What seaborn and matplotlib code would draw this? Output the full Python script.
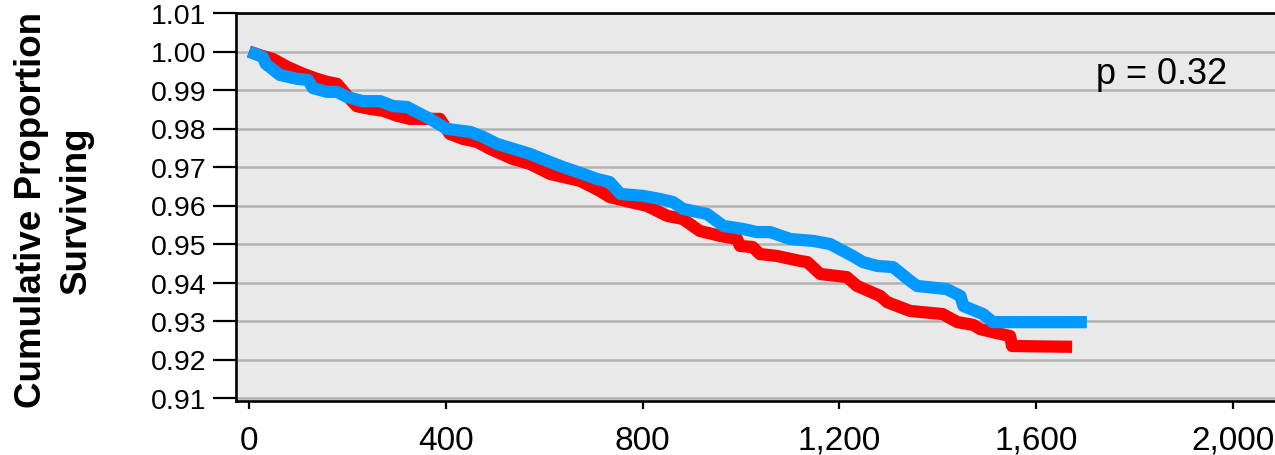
import matplotlib
matplotlib.use("Agg")
import matplotlib.pyplot as plt
from matplotlib.ticker import FuncFormatter
import pandas as pd
import seaborn as sns

# Kaplan-Meier style survival curves (days of follow-up vs cumulative proportion)
days_blue = [0, 28, 34, 63, 98, 120, 130, 159, 179, 199, 231, 267, 293, 321, 368,
             402, 450, 476, 504, 571, 606, 638, 679, 707, 733, 755, 801, 835, 862,
             882, 931, 964, 1004, 1032, 1059, 1100, 1147, 1181, 1227, 1248, 1277,
             1309, 1344, 1358, 1418, 1446, 1452, 1492, 1512, 1703]
surv_blue = [1.0000, 0.9986, 0.9968, 0.9939, 0.9929, 0.9926, 0.9905, 0.9895,
             0.9895, 0.9882, 0.9871, 0.9871, 0.9858, 0.9856, 0.9825, 0.9799,
             0.9791, 0.9778, 0.9760, 0.9734, 0.9716, 0.9700, 0.9682, 0.9669,
             0.9661, 0.9630, 0.9625, 0.9617, 0.9609, 0.9591, 0.9578, 0.9547,
             0.9539, 0.9531, 0.9531, 0.9513, 0.9508, 0.9500, 0.9469, 0.9453,
             0.9443, 0.9440, 0.9404, 0.9391, 0.9383, 0.9365, 0.9339, 0.9318,
             0.9297, 0.9297]

days_red = [0, 28, 48, 78, 110, 138, 159, 179, 205, 219, 246, 273, 301, 327, 388,
            408, 435, 464, 490, 536, 571, 612, 673, 713, 733, 775, 809, 850, 882,
            916, 958, 992, 998, 1024, 1038, 1073, 1120, 1135, 1161, 1215, 1236,
            1283, 1297, 1344, 1410, 1440, 1472, 1486, 1512, 1547, 1551, 1673]
surv_red = [1.0000, 0.9988, 0.9981, 0.9960, 0.9942, 0.9929, 0.9921, 0.9916,
            0.9877, 0.9858, 0.9851, 0.9846, 0.9833, 0.9825, 0.9825, 0.9786,
            0.9773, 0.9765, 0.9747, 0.9721, 0.9708, 0.9682, 0.9664, 0.9638,
            0.9622, 0.9609, 0.9599, 0.9573, 0.9565, 0.9534, 0.9521, 0.9513,
            0.9495, 0.9492, 0.9474, 0.9469, 0.9456, 0.9453, 0.9422, 0.9414,
            0.9391, 0.9365, 0.9349, 0.9326, 0.9318, 0.9297, 0.9290, 0.9279,
            0.9271, 0.9261, 0.9235, 0.9233]

x_ticks = [0, 400, 800, 1200, 1600, 2000]
y_ticks = [0.91, 0.92, 0.93, 0.94, 0.95, 0.96, 0.97, 0.98, 0.99, 1.00, 1.01]
p_label = "p = 0.32"

RED = "#ff0000"
BLUE = "#0099ff"

sns.set_theme(style="white")
plt.rcParams["font.family"] = ["Liberation Sans", "DejaVu Sans"]
plt.rcParams["text.color"] = "black"

fig = plt.figure(figsize=(12.75, 4.56), dpi=100)
ax = fig.add_axes([236 / 1275, 1 - 402 / 456, 1 - 236 / 1275, (402 - 14) / 456])
ax.set_facecolor("#e9e9e9")

df_red = pd.DataFrame({"days": days_red, "surv": surv_red})
df_blue = pd.DataFrame({"days": days_blue, "surv": surv_blue})
line_kw = dict(lw=8.8, estimator=None, sort=False,
               solid_capstyle="butt", solid_joinstyle="round")
sns.lineplot(data=df_red, x="days", y="surv", color=RED, ax=ax, zorder=3, **line_kw)
sns.lineplot(data=df_blue, x="days", y="surv", color=BLUE, ax=ax, zorder=4, **line_kw)

ax.set_xlim(-26.4, 2085.4)
ax.set_ylim(1.01 - 388 / 3850, 1.01)
ax.set_xticks(x_ticks)
ax.set_yticks(y_ticks)
ax.xaxis.set_major_formatter(FuncFormatter(lambda v, _: f"{v:,.0f}"))
ax.yaxis.set_major_formatter(FuncFormatter(lambda v, _: f"{v:.2f}"))

ax.yaxis.grid(True, color="#b3b3b3", lw=1.8, zorder=1)
ax.xaxis.grid(False)
ax.set_axisbelow(True)

for side in ("left", "bottom", "top"):
    ax.spines[side].set_visible(True)
    ax.spines[side].set_color("black")
    ax.spines[side].set_linewidth(1.9)
ax.spines["right"].set_visible(False)

ax.tick_params(axis="y", direction="out", length=16.5, width=1.6, color="black",
               labelsize=20.5, pad=5, left=True, labelcolor="black")
ax.tick_params(axis="x", direction="out", length=6, width=1.6, color="black",
               labelsize=24, pad=11, bottom=True, labelcolor="black")

ax.set_xlabel("")
ax.set_ylabel("")
fig.text(54 / 1275, 1 - 210 / 456, "Cumulative Proportion\nSurviving",
         rotation=90, ha="center", va="center", multialignment="center",
         fontsize=26.5, fontweight="bold", linespacing=1.4, color="black")

ax.text(1854, 0.9942, p_label, ha="center", va="center", fontsize=26, color="black")

fig.savefig("out.png", dpi=100)
